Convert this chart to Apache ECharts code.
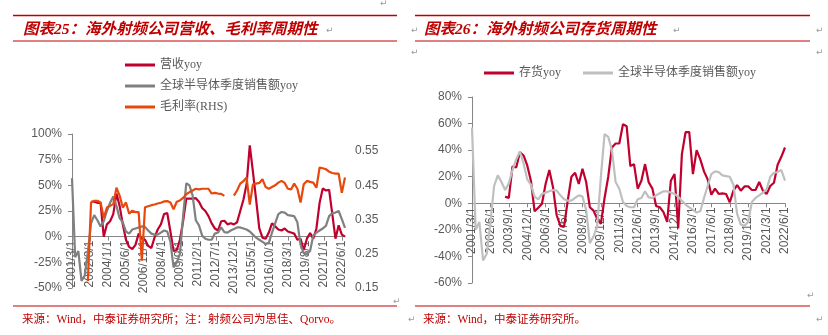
<!DOCTYPE html>
<html>
<head>
<meta charset="utf-8">
<script src="https://cdn.jsdelivr.net/npm/echarts@6/dist/echarts.min.js"></script>
<style>
  html, body { margin: 0; padding: 0; background: #ffffff; }
  #chart { width: 828px; height: 335px; }
</style>
</head>
<body>
<div id="chart"></div>
<script>
// Monthly category labels from 2001/3/1 up to a given month
function monthRange(endY, endM) {
  const out = [];
  for (let y = 2001, m = 3; y < endY || (y === endY && m <= endM);) {
    out.push(y + '/' + m + '/1');
    m++;
    if (m > 12) { m = 1; y++; }
  }
  return out;
}
const monthsLeft = monthRange(2022, 9);   // 营收 / 毛利率 chart
const monthsRight = monthRange(2022, 6);  // 存货 chart
// Quarterly observation dates (every third month), 2001/3/1 .. 2022/9/1
const quarters = monthsLeft.filter((_, i) => i % 3 === 0);

// 全球半导体季度销售额yoy (%)
const semiYoy = [57, -20, -14, -43, -38, -15, 13, 21, 16, 10,
  15, 25, 33, 39, 30, 18, 14, 5, 3, 7,
  8, 9, 10, 9.5, 6, 3, 2, 2, 4, 6,
  5, -5, -30, -25, -17, 20, 52, 50, 40, 16,
  11, 1, -2, -3, -3, 3, 4, 9, 4.5, 4,
  6, 7.5, 9, 9, 8, 7, 5, 2, -1, -3,
  -5, -7, -6, 4, 13, 22, 24, 23.5, 21, 20.5,
  20, 14, -8, -16, -17, -14, 1, 4, 6, 8,
  10.5, 20, 23, 23.5, 25, 17, 8.5];

// 营收yoy (%), 射频公司
const revYoy = [null, null, null, null, null, null, 34, 34, 33, 33,
  0, 12, 15, 22, 42, 30, 12, -3, -10, -12,
  -8, 3, -2, -3, -9, -11, -1, 7, 12, 22,
  23, 5, -14, -13, -3, 15, 37, 37, 37, 37.5,
  34, 28, 25, 20, 13, 8, 6, 15, 15.5, 12,
  13, 12, 14, 25, 36, 51, 89, 63, 36, 8,
  -1, -2, 4, 13, 10, 7, 6, 8, 5, 4,
  3, -3, -2, -13, -2, 3.6, -2, 8, 33, 47,
  45, 45.5, 22, -2, 11, 2, 0];

// 毛利率 (右轴)
const grossMargin = [null, null, null, null, null, 0.17, 0.40, 0.405, 0.405, 0.40,
  0.355, 0.385, 0.39, 0.395, 0.443, 0.42, 0.385, 0.40, 0.367, 0.376,
  0.372, 0.372, 0.23, 0.386, 0.389, 0.392, 0.394, 0.397, 0.399, 0.403,
  0.404, 0.40, 0.38, 0.402, 0.406, 0.413, 0.424, 0.43, 0.435, 0.44,
  0.438, 0.44, 0.44, 0.44, 0.426, 0.428, 0.426, 0.425, 0.419, null,
  null, 0.42, 0.435, 0.455, 0.462, 0.473, 0.394, 0.453, 0.455, 0.457,
  0.468, 0.445, 0.44, 0.445, 0.45, 0.458, 0.463, 0.457, 0.44, 0.438,
  0.455, 0.44, 0.40, 0.453, 0.463, 0.46, 0.458, 0.443, 0.502, 0.50,
  0.497, 0.49, 0.486, 0.484, 0.484, 0.428, 0.473];

// 存货yoy (%), through 2022/6/1
const invYoy = [null, null, null, null, null, null, null, null, null, 5,
  4, 27.7, 27, 38.5, 36, 28.5, 17, -6, -3.3, -0.3,
  14.7, 25, 12, -9, -17, -17.8, 2, 20, 23, 14.5,
  26, 16, -3, -5.5, -11.7, -15.5, 4, 20, 42, 45,
  45, 59.5, 58, 28, 29.5, 11, 17, 29.5, 15.7, 11,
  -2, -3, -6.7, -14, 17, 22, -19, 37, 53.5, 53.5,
  22, 40, 33, 24, 18, 6.5, 11, 7, 7.5, 7,
  0.7, 9.5, 13.7, 9.5, 12.7, 12.7, 10, 10, 16, 9.5,
  7, 13, 15.5, 29, 35, 42];

const RED = '#C0002E';
const ORANGE = '#E8480C';
const GRAY_DARK = '#808080';
const GRAY_LIGHT = '#BFBFBF';
const AXIS = '#868686';
const LABEL = '#595959';
const TITLE_RED = '#C00000';
const SERIF_CJK = "'Liberation Serif', 'Noto Sans CJK SC', serif";
const SANS = "'Liberation Sans', Arial, sans-serif";

// Plot areas
const G1 = { left: 72, top: 134, width: 273, height: 154, min: -50, max: 100 };
const G2 = { left: 472, top: 97, width: 313, height: 186, min: -60, max: 80 };
// The category axis sits on the 0% line; shift it up from the grid bottom
const zeroShift = g => -g.height * (0 - g.min) / (g.max - g.min);

const pairs = (arr, n) => quarters.slice(0, n).map((q, i) => [q, arr[i]]);
const nRight = monthsRight.filter((_, i) => i % 3 === 0).length;

const chart = echarts.init(document.getElementById('chart'), null, { renderer: 'canvas' });

function lineSeries(name, data, color, xi, yi, z) {
  return {
    name, type: 'line', xAxisIndex: xi, yAxisIndex: yi, data,
    symbol: 'none', showSymbol: false, connectNulls: false, z,
    lineStyle: { color, width: 2.2 }, itemStyle: { color },
    emphasis: { disabled: true }
  };
}

const catAxis = (gridIndex, cats, every, g) => ({
  type: 'category', gridIndex, data: cats, boundaryGap: false,
  position: 'bottom', offset: zeroShift(g),
  axisLine: { onZero: false, lineStyle: { color: AXIS, width: 1 } },
  axisTick: { show: true, interval: every, length: 4, lineStyle: { color: AXIS } },
  axisLabel: { interval: every, rotate: 90, margin: 4, color: LABEL, fontSize: 12, fontFamily: SANS },
  splitLine: { show: false }
});

const marks = [
  [380, 4], [411, 31], [411, 53], [326, 31], [393, 302], [408, 320],
  [673, 31], [816, 31], [816, 53], [807, 296], [816, 320]
];

const rule = (x1, x2, y, w) => ({
  type: 'line', silent: true,
  shape: { x1, y1: y, x2, y2: y },
  style: { stroke: TITLE_RED, lineWidth: w }
});

const label = (x, y, text, font, fill) => ({
  type: 'text', x, y, silent: true,
  style: { text, font, fill, verticalAlign: 'middle', textVerticalAlign: 'middle' }
});

chart.setOption({
  animation: false,
  backgroundColor: '#ffffff',
  grid: [
    { left: G1.left, top: G1.top, width: G1.width, height: G1.height, outerBoundsMode: 'none', containLabel: false },
    { left: G2.left, top: G2.top, width: G2.width, height: G2.height, outerBoundsMode: 'none', containLabel: false }
  ],
  xAxis: [catAxis(0, monthsLeft, 16, G1), catAxis(1, monthsRight, 14, G2)],
  yAxis: [
    {
      type: 'value', gridIndex: 0, min: G1.min, max: G1.max, interval: 25,
      axisLine: { show: true, lineStyle: { color: AXIS } },
      axisTick: { show: true, length: 4, lineStyle: { color: AXIS } },
      axisLabel: { formatter: '{value}%', margin: 10, color: LABEL, fontSize: 12, fontFamily: SANS },
      splitLine: { show: false }
    },
    {
      type: 'value', gridIndex: 0, position: 'right', min: 0.15, max: 0.6, interval: 0.1,
      axisLine: { show: false }, axisTick: { show: false },
      axisLabel: { formatter: v => v.toFixed(2), showMaxLabel: false, margin: 10, color: LABEL, fontSize: 12, fontFamily: SANS },
      splitLine: { show: false }
    },
    {
      type: 'value', gridIndex: 1, min: G2.min, max: G2.max, interval: 20,
      axisLine: { show: true, lineStyle: { color: AXIS } },
      axisTick: { show: true, length: 4, lineStyle: { color: AXIS } },
      axisLabel: { formatter: '{value}%', margin: 10, color: LABEL, fontSize: 12, fontFamily: SANS },
      splitLine: { show: false }
    }
  ],
  legend: [
    {
      orient: 'vertical', left: 120, top: 54, itemWidth: 30, itemHeight: 3, itemGap: 9,
      icon: 'rect', selectedMode: false,
      textStyle: { color: LABEL, fontSize: 12, fontFamily: SERIF_CJK },
      data: ['营收yoy', '全球半导体季度销售额yoy', '毛利率(RHS)']
    },
    {
      orient: 'horizontal', left: 479, top: 62, itemWidth: 30, itemHeight: 3, itemGap: 22,
      icon: 'rect', selectedMode: false,
      textStyle: { color: LABEL, fontSize: 12, fontFamily: SERIF_CJK },
      data: [
        { name: '存货yoy', itemStyle: { color: RED } },
        { name: '全球半导体季度销售额yoy', itemStyle: { color: GRAY_LIGHT } }
      ]
    }
  ],
  series: [
    lineSeries('营收yoy', pairs(revYoy), RED, 0, 0, 2),
    lineSeries('全球半导体季度销售额yoy', pairs(semiYoy), GRAY_DARK, 0, 0, 3),
    lineSeries('毛利率(RHS)', pairs(grossMargin), ORANGE, 0, 1, 4),
    lineSeries('存货yoy', pairs(invYoy, nRight), RED, 1, 2, 2),
    lineSeries('全球半导体季度销售额yoy', pairs(semiYoy, nRight), GRAY_LIGHT, 1, 2, 3)
  ],
  graphic: [
    rule(13, 397, 15.5, 1.5), rule(13, 397, 41, 1), rule(13, 397, 306, 1),
    rule(415, 810, 15.5, 1.5), rule(415, 810, 41, 1), rule(415, 810, 306, 1),
    label(23, 30, '图表25：海外射频公司营收、毛利率周期性', "italic bold 15.5px " + SERIF_CJK, TITLE_RED),
    label(424, 30, '图表26：海外射频公司存货周期性', "italic bold 15.5px " + SERIF_CJK, TITLE_RED),
    label(22, 320, '来源：Wind，中泰证券研究所；注：射频公司为思佳、Qorvo。', "11.5px " + SERIF_CJK, TITLE_RED),
    label(423, 320, '来源：Wind，中泰证券研究所。', "11.5px " + SERIF_CJK, TITLE_RED),
    ...marks.map(([x, y]) => label(x, y, '↵', "9px 'DejaVu Sans'", '#9A9A9A'))
  ]
});
</script>
</body>
</html>
